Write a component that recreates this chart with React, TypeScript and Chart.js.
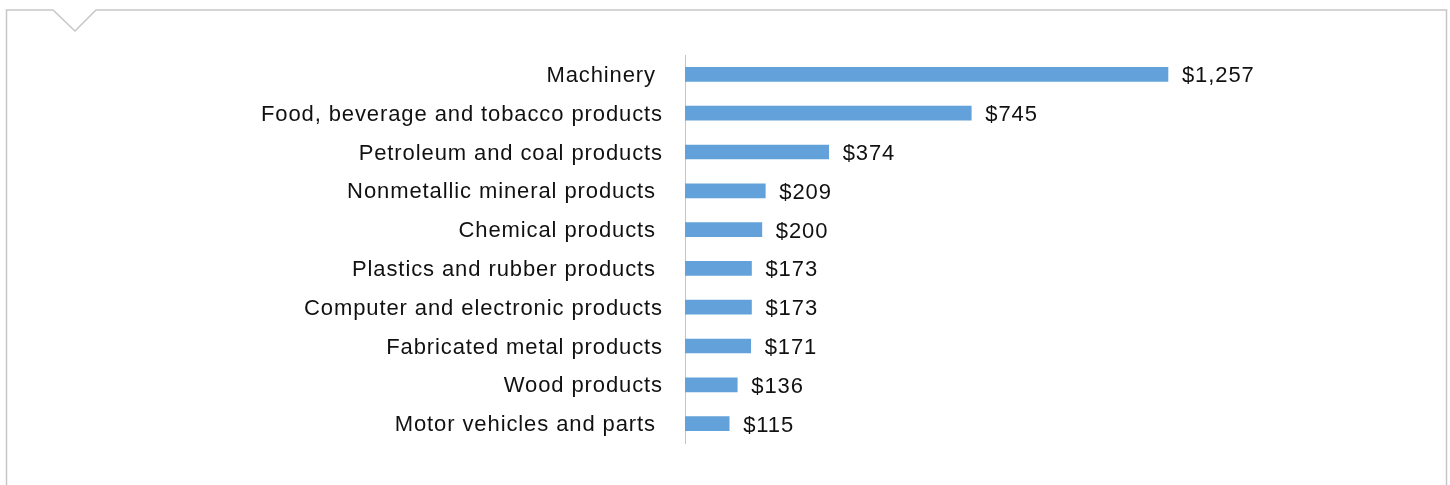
import React, { useEffect, useRef } from "react";
import { Chart, registerables } from "chart.js";

Chart.register(...registerables);

const categories = [
  "Machinery ",
  "Food, beverage and tobacco products",
  "Petroleum and coal products",
  "Nonmetallic mineral products ",
  "Chemical products ",
  "Plastics and rubber products ",
  "Computer and electronic products",
  "Fabricated metal products",
  "Wood products",
  "Motor vehicles and parts ",
];
const values = [1257, 745, 374, 209, 200, 173, 173, 171, 136, 115];

const FONT = "'Liberation Sans', Arial, Helvetica, sans-serif";
const BAR_COLOR = "#62A1DA";
const SPACING = "0.9px";

const letterSpacingPlugin = {
  id: "letterSpacing",
  beforeDraw(chart: any) {
    (chart.ctx as any).letterSpacing = SPACING;
  },
};

const valueLabelPlugin = {
  id: "valueLabels",
  afterDatasetsDraw(chart: any) {
    const ctx = chart.ctx;
    const meta = chart.getDatasetMeta(0);
    ctx.save();
    (ctx as any).letterSpacing = SPACING;
    ctx.font = `22px ${FONT}`;
    ctx.fillStyle = "#111";
    ctx.textAlign = "left";
    ctx.textBaseline = "middle";
    meta.data.forEach((bar: any, i: number) => {
      const v = values[i];
      ctx.fillText("$" + v.toLocaleString("en-US"), bar.x + 14, bar.y + 2);
    });
    ctx.restore();
  },
};

export default function App() {
  const ref = useRef<HTMLCanvasElement>(null);
  useEffect(() => {
    if (!ref.current) return;
    const chart = new Chart(ref.current, {
      type: "bar",
      data: {
        labels: categories,
        datasets: [
          {
            data: values,
            backgroundColor: BAR_COLOR,
            borderWidth: 0,
            barThickness: 14,
          },
        ],
      },
      options: {
        indexAxis: "y",
        animation: false,
        responsive: true,
        maintainAspectRatio: false,
        layout: { padding: { top: 55, bottom: 42, left: 0, right: 73.4 } },
        plugins: {
          legend: { display: false },
          tooltip: { enabled: false },
        },
        scales: {
          x: { display: false, min: 0, max: 1800 },
          y: {
            grid: { display: false, drawTicks: false },
            border: { display: true, color: "#C4C4C4", width: 1 },
            ticks: {
              padding: 22,
              labelOffset: 1.5,
              color: "#111",
              font: { family: FONT, size: 22 },
              autoSkip: false,
            },
            afterFit(scale: any) {
              scale.width = 685;
            },
          },
        },
      },
      plugins: [letterSpacingPlugin, valueLabelPlugin],
    });
    return () => chart.destroy();
  }, []);

  return (
    <div
      style={{
        position: "absolute",
        left: 0,
        top: 0,
        width: 1450,
        height: 485,
        background: "#fff",
        overflow: "hidden",
      }}
    >
      <svg
        width={1450}
        height={485}
        style={{ position: "absolute", left: 0, top: 0 }}
      >
        <path
          d="M6.5,486 L6.5,10 L53,10 L75,31 L96,10 L1446.5,10 L1446.5,486"
          fill="none"
          stroke="#C6C6C6"
          strokeWidth={1.5}
        />
      </svg>
      <div style={{ position: "absolute", left: 0, top: 0, width: 1450, height: 485 }}>
        <canvas ref={ref} />
      </div>
    </div>
  );
}
